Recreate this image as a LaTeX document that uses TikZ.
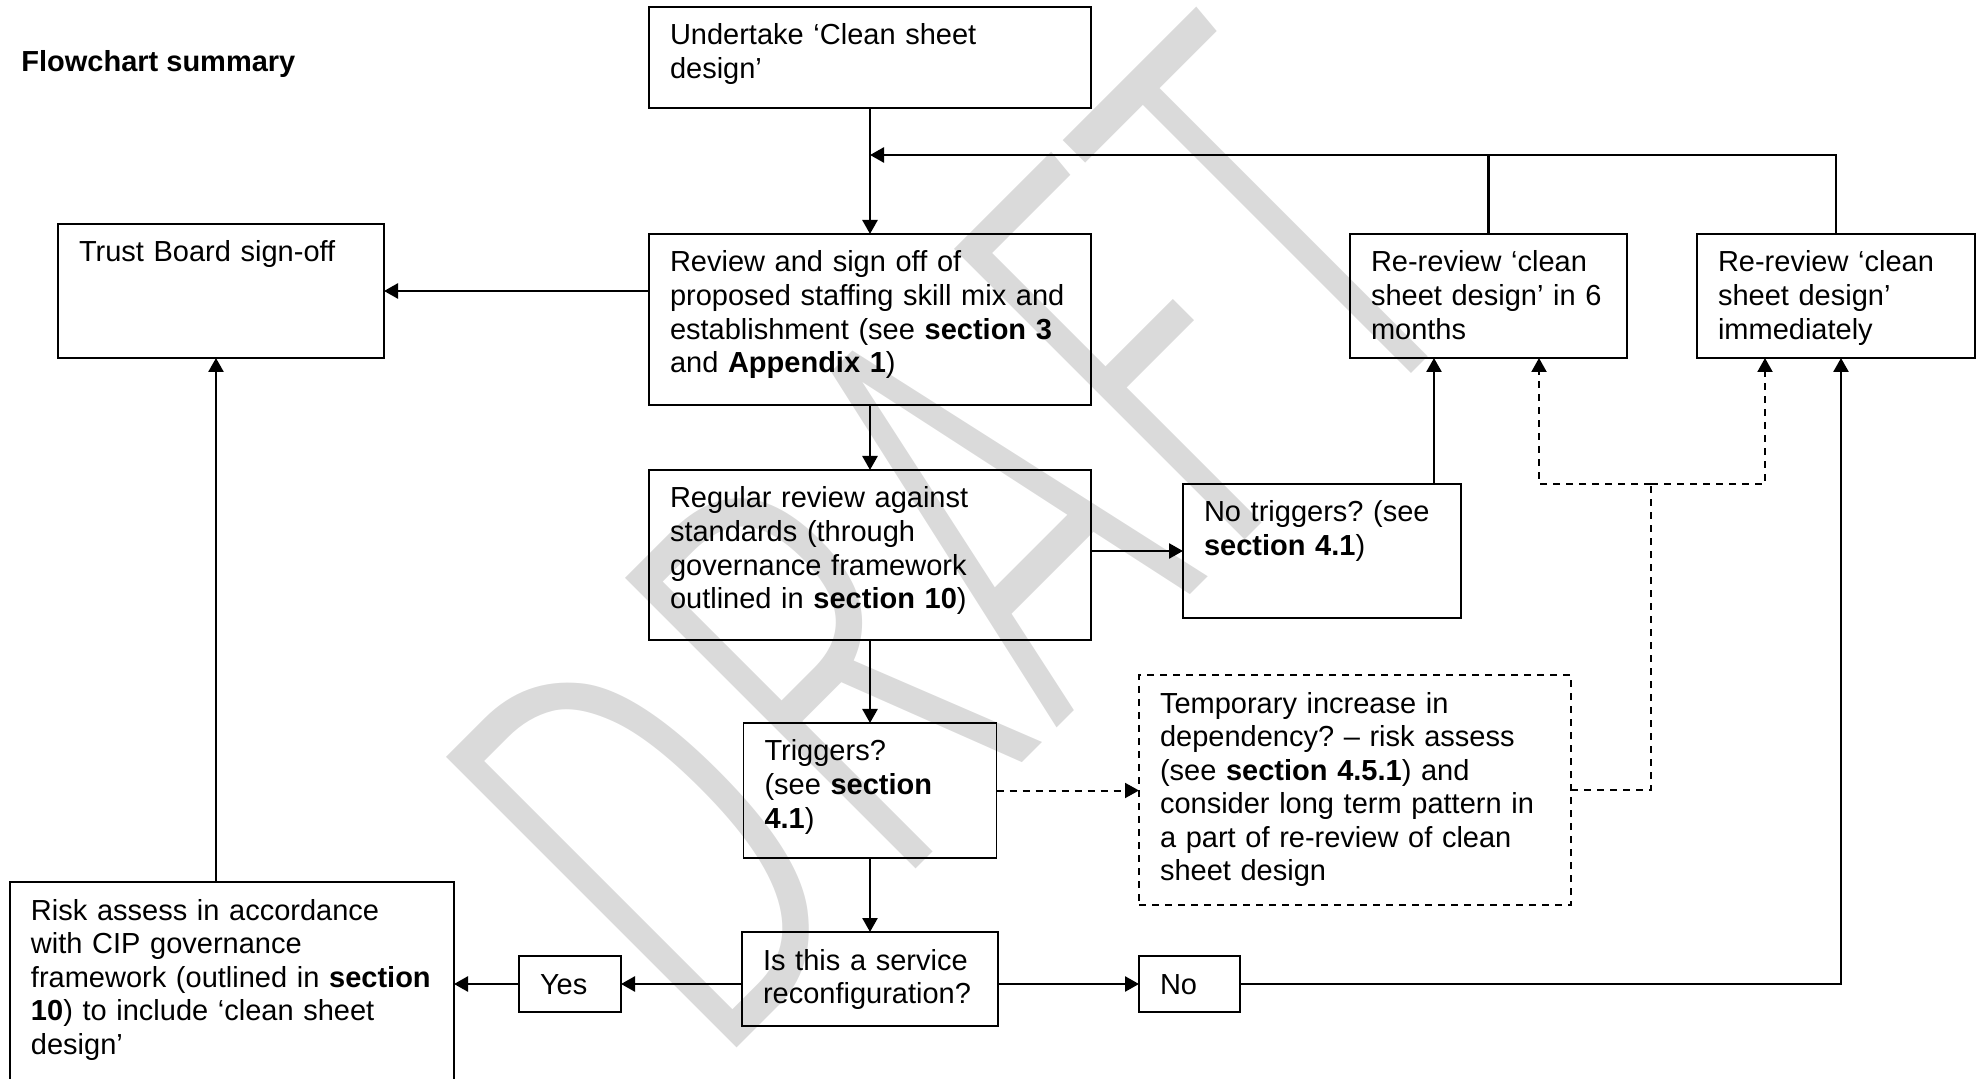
\documentclass[tikz,border=0pt]{standalone}
\usepackage{fontspec}
\setmainfont{Liberation Sans}
\newfontfamily\draftfont{Fira Sans Light}
\usetikzlibrary{arrows.meta, positioning}

\definecolor{draftgray}{HTML}{DADADA}
\frenchspacing
\hyphenpenalty=10000

\begin{document}
\begin{tikzpicture}[x=0.5pt, y=-0.5pt, >={Triangle[length=7pt, width=7.5pt]},
  font=\fontsize{14.5}{16.8}\selectfont]
  \tikzset{
    box/.style 2 args={
      draw,
      line width=0.9pt,
      outer sep=0pt,
      inner xsep=10.5pt,
      inner ysep=0pt,
      align=left,
      text width=#1,
      text height=19pt,
      text depth=#2},
    dbox/.style 2 args={
      box={#1}{#2},
      dash pattern=on 3.5pt off 3pt},
    conn/.style={->, line width=1.3pt},
    link/.style={line width=1.3pt},
    dconn/.style={->, line width=1pt, dash pattern=on 3.5pt off 3pt},
    dlink/.style={line width=1pt, dash pattern=on 3.5pt off 3pt},
    watermark/.style={
      text=draftgray,
      inner sep=0pt,
      font=\draftfont\fontsize{300}{300}\selectfont}}

  \useasboundingbox (0,0) rectangle (1982,1079);
  \clip (0,0) rectangle (1982,1079);

  \node[watermark, anchor=base west, rotate=45, xscale=0.67] (draft) at (705,1080) {DRAFT};

  \node[anchor=base west, inner sep=0pt, font=\fontsize{14.5}{16.8}\selectfont\bfseries] (title) at (21,72) {Flowchart summary};

  % main column
  \node[box={200pt}{31.5pt}, anchor=north west] (undertake) at (649,7)
    {Undertake ‘Clean sheet\\design’};
  \node[box={200pt}{66.5pt}] (review) [below=63pt of undertake]
    {Review and sign off of\\proposed staffing skill mix and\\establishment (see \textbf{section 3}\\and \textbf{Appendix 1})};
  \node[box={200pt}{66pt}] (regular) [below=32.5pt of review]
    {Regular review against\\standards (through\\governance framework\\outlined in \textbf{section 10})};
  \node[box={105.5pt}{48.5pt}] (triggers) [below=41.5pt of regular]
    {Triggers?\\(see \textbf{section}\\\textbf{4.1})};
  \node[box={107pt}{28pt}] (service) [below=37pt of triggers]
    {Is this a service\\reconfiguration?};

  % side boxes
  \node[box={142pt}{48pt}, anchor=north west] (trust) at (58,224) {Trust Board sign-off};
  \node[box={117.5pt}{43pt}, anchor=north west] (sixmonth) at (1350,234)
    {Re-review ‘clean\\sheet design’ in 6\\months};
  \node[box={118pt}{43pt}, anchor=north west] (immediate) at (1697,234)
    {Re-review ‘clean\\sheet design’\\immediately};
  \node[box={118pt}{48pt}, anchor=north west] (notrig) at (1183,484)
    {No triggers? (see\\\textbf{section 4.1})};
  \node[dbox={195pt}{96pt}, anchor=north west] (temporary) at (1139,675)
    {Temporary increase in\\dependency? – risk assess\\(see \textbf{section 4.5.1}) and\\consider long term pattern in\\a part of re-review of clean\\sheet design};
  \node[box={30pt}{9pt}, anchor=north west] (yes) at (519,956) {Yes};
  \node[box={29.5pt}{9pt}, anchor=north west] (no) at (1139,956) {No};
  \node[box={201pt}{101pt}, anchor=north west] (risk) at (10,882)
    {Risk assess in accordance\\with CIP governance\\framework (outlined in \textbf{section}\\\textbf{10}) to include ‘clean sheet\\design’};

  \coordinate (loop) at (undertake.south |- 0,155);
  \coordinate (split) at (1651,484);

  \draw[conn] (undertake) -- (review);
  \draw[conn] (review) -- (regular);
  \draw[conn] (regular.south) -- (regular.south |- triggers.north);
  \draw[conn] (triggers.south) -- (triggers.south |- service.north);

  % re-review loop back
  \draw[conn] (immediate.north) |- (loop);
  \draw[link] (sixmonth.north) -- (sixmonth.north |- loop);

  \draw[conn] (review.west |- trust) -- (trust);
  \draw[conn] (regular.east |- notrig) -- (notrig);
  \draw[conn] (notrig.north -| 1434,0) -- (sixmonth.south -| 1434,0);

  % temporary increase branch
  \draw[dconn] (triggers.east) -- (triggers.east -| temporary.west);
  \draw[dlink] (temporary.east) -| (split);
  \draw[dconn] (split) -| (sixmonth.south -| 1539,0);
  \draw[dconn] (split) -| (immediate.south -| 1765,0);

  % service reconfiguration
  \draw[conn] (service.west |- yes) -- (yes);
  \draw[conn] (yes) -- (yes -| risk.east);
  \draw[conn] (risk.north -| 216,0) -- (trust.south -| 216,0);
  \draw[conn] (service.east |- no) -- (no);
  \draw[conn] (no) -| (immediate.south -| 1841,0);

\end{tikzpicture}
\end{document}
